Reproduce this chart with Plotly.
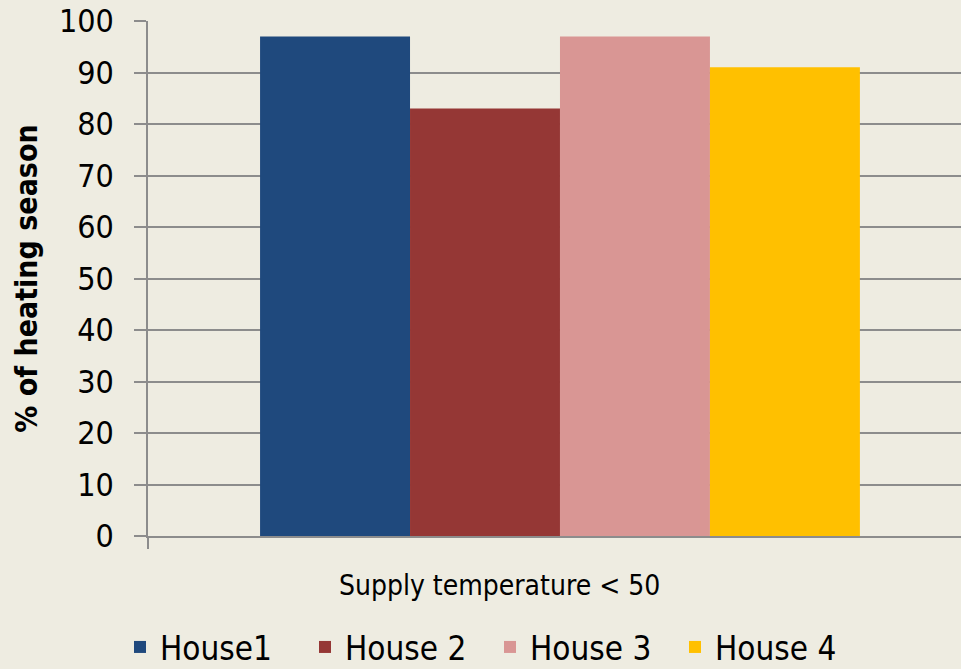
import plotly.graph_objects as go

# data
category = ["Supply temperature < 50"]
houses = ["House1", "House 2", "House 3", "House 4"]
values = [97, 83, 97, 91]
colors = ["#1F497D", "#953735", "#D99694", "#FFC000"]

BG = "#EEECE1"
GRID = "#8C8C8C"
FONT = "Liberation Sans Narrow, DejaVu Sans Condensed, Roboto Condensed, Liberation Sans, sans-serif"

fig = go.Figure()
for name, val, col in zip(houses, values, colors):
    fig.add_trace(go.Bar(x=category, y=[val], name=name, marker_color=col,
                         marker_line_width=0))

fig.update_layout(
    width=961, height=669,
    barmode="group", bargap=0.272, bargroupgap=0,
    paper_bgcolor=BG, plot_bgcolor=BG,
    font=dict(family=FONT, size=26, color="#000000"),
    margin=dict(l=148, r=0, t=21, b=133),
    showlegend=True,
    legend=dict(orientation="h", xref="container", x=120 / 961, xanchor="left",
                yref="container", y=(669 - 647) / 669, yanchor="middle",
                font=dict(size=33), bgcolor="rgba(0,0,0,0)", itemwidth=30,
                entrywidth=140, tracegroupgap=0),
)
fig.update_xaxes(
    range=[-0.5, 0.4867], showticklabels=False, showgrid=False,
    ticks="outside", tickson="boundaries", ticklen=11, tickcolor=GRID, tickwidth=1.5,
    showline=True, linecolor=GRID, linewidth=1.5,
)
fig.update_yaxes(
    range=[0, 100], dtick=10, showgrid=True, gridcolor=GRID, gridwidth=1.5,
    ticks="outside", ticklen=12, tickcolor=GRID, tickwidth=1.5,
    showline=True, linecolor=GRID, linewidth=1.5, zeroline=False,
    tickfont=dict(size=32), ticklabelstandoff=14,
    title=dict(text="<b>% of heating season</b>", font=dict(size=30), standoff=12),
)
fig.add_annotation(text=category[0], xref="paper", yref="paper",
                   x=(499 - 148) / 813, y=-(585 - 536) / 515,
                   xanchor="center", yanchor="middle", showarrow=False,
                   font=dict(size=28))

fig.write_html("out.html", config={"displayModeBar": False},
               post_script="document.body.style.margin='0';")
